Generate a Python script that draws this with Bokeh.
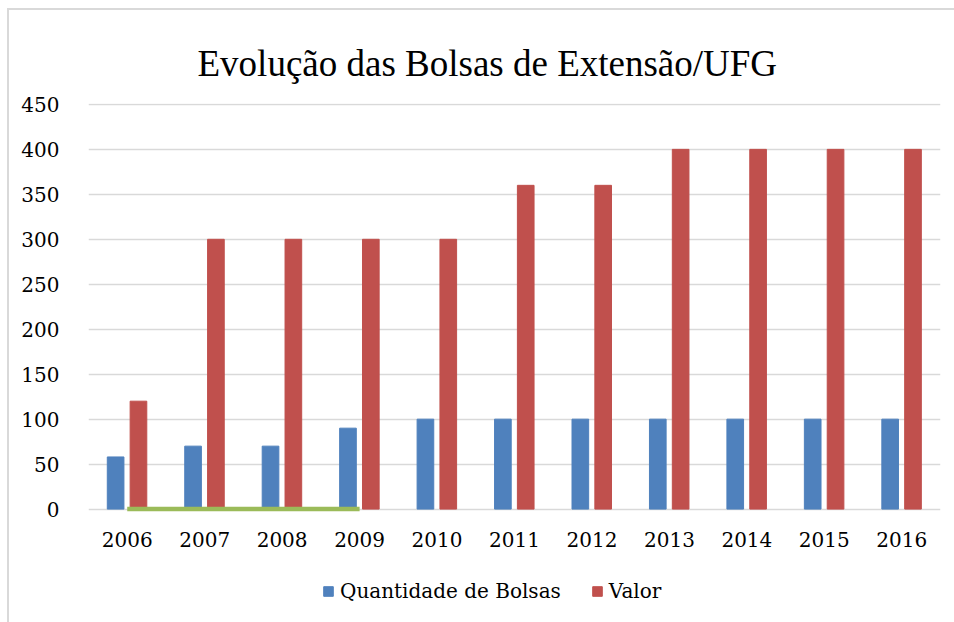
from bokeh.plotting import figure
from bokeh.models import ColumnDataSource, FactorRange, Legend, LegendItem, InlineStyleSheet
from bokeh.layouts import column
from bokeh.transform import dodge
from bokeh.embed import file_html
from bokeh.resources import INLINE

years = ["2006", "2007", "2008", "2009", "2010", "2011", "2012", "2013", "2014", "2015", "2016"]
quantidade = [58, 70, 70, 90, 100, 100, 100, 100, 100, 100, 100]
valor = [120, 300, 300, 300, 300, 360, 360, 400, 400, 400, 400]
serie3_years = ["2006", "2007", "2008", "2009"]
serie3 = [0, 0, 0, 0]
y_ticks = [0, 50, 100, 150, 200, 250, 300, 350, 400, 450]
series_names = ["Quantidade de Bolsas", "Valor"]
series_colors = ["#4F81BD", "#C0504D"]

src = ColumnDataSource(dict(year=years, q=quantidade, v=valor))
src3 = ColumnDataSource(dict(year=serie3_years, v=serie3))

p = figure(x_range=FactorRange(factors=years, range_padding=0), y_range=(-6, 451),
           width=954, height=560, output_backend="svg", toolbar_location=None,
           min_border_left=88, min_border_right=14, min_border_top=103, min_border_bottom=46)

p.title.text = "Evolução das Bolsas de Extensão/UFG"
p.title.text_font = "Liberation Serif"
p.title.text_font_size = "37px"
p.title.text_font_style = "normal"
p.title.text_color = "#000000"
p.title.align = "left"
p.title.offset = 109
p.title.standoff = 40

p.vbar(x=dodge("year", -0.15, range=p.x_range), top="q", bottom=0, width=0.215, source=src,
       fill_color=series_colors[0], line_color=series_colors[0])
p.vbar(x=dodge("year", 0.145, range=p.x_range), top="v", bottom=0, width=0.215, source=src,
       fill_color=series_colors[1], line_color=series_colors[1])
p.line(x="year", y="v", source=src3, line_color="#9BBB59", line_width=4.5)

p.outline_line_color = None
p.xgrid.grid_line_color = None
p.ygrid.grid_line_color = "#d9d9d9"
p.ygrid.grid_line_width = 1.5
p.yaxis.ticker = y_ticks

for ax in (p.xaxis, p.yaxis):
    ax.major_tick_line_color = None
    ax.minor_tick_line_color = None
    ax.major_label_text_font = "DejaVu Serif"
    ax.major_label_text_font_size = "20px"
    ax.major_label_text_color = "#000000"
    ax.axis_line_color = None
p.yaxis.major_label_standoff = 23
p.xaxis.major_label_standoff = 11

# legend strip below the chart (its bars lie outside its visible range)
lf = figure(width=954, height=62, output_backend="svg", toolbar_location=None,
            min_border=0, x_range=FactorRange(factors=years), y_range=(1000, 1001))
lf.axis.visible = False
lf.grid.visible = False
lf.outline_line_color = None
items = []
for name, col, key in zip(series_names, series_colors, ["q", "v"]):
    rr = lf.vbar(x="year", top=key, width=0.2, source=src, fill_color=col, line_color=col)
    items.append(LegendItem(label=name, renderers=[rr]))
legend = Legend(items=items, orientation="horizontal", location=(234, 19),
                label_text_font="DejaVu Serif", label_text_font_size="20px",
                label_text_color="#000000",
                glyph_width=12, glyph_height=12, label_standoff=6, spacing=30,
                padding=0, margin=0, border_line_color=None, background_fill_alpha=0)
lf.add_layout(legend, "center")

css = InlineStyleSheet(css=""":host { position: relative; }
:host::after { content: ''; position: absolute; left: 7px; top: 8px; right: 0; bottom: 0;
  border-left: 2px solid #d9d9d9; border-top: 2px solid #d9d9d9; pointer-events: none; }""")
layout = column(p, lf, spacing=0, stylesheets=[css])
open("out.html", "w").write(file_html(layout, INLINE))
